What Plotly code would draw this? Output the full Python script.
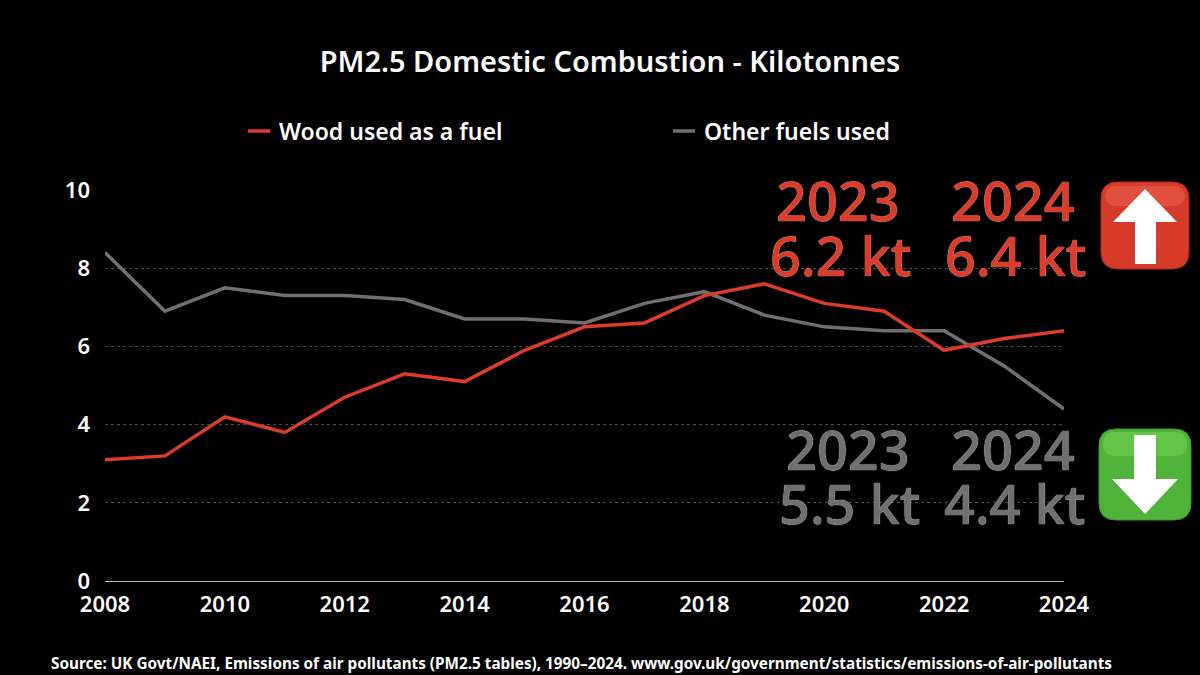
import plotly.graph_objects as go

years = list(range(2008, 2025))
wood = [3.1, 3.2, 4.2, 3.8, 4.7, 5.3, 5.1, 5.9, 6.5, 6.6, 7.3, 7.6, 7.1, 6.9, 5.9, 6.2, 6.4]
other = [8.4, 6.9, 7.5, 7.3, 7.3, 7.2, 6.7, 6.7, 6.6, 7.1, 7.4, 6.8, 6.5, 6.4, 6.4, 5.5, 4.4]
wood_labels = [("2023", 838, 200), ("2024", 1013, 200), ("6.2 kt", 840, 255), ("6.4 kt", 1015, 255)]
other_labels = [("2023", 848, 449), ("2024", 1013, 449), ("5.5 kt", 849, 503), ("4.4 kt", 1014, 503)]

RED = "#dc3c2a"
GREY = "#707070"
FONT = "Noto Sans"
W, H = 1200, 675
LEFT, RIGHT, TOP, BOTTOM = 105, 1064, 190, 581


# paper coordinates run over the plot area, these take picture pixels
def px(x):
    return (x - LEFT) / (RIGHT - LEFT)


def py(y):
    return (BOTTOM - y) / (BOTTOM - TOP)


def path(points):
    return "M " + " L ".join(f"{px(x):.4f},{py(y):.4f}" for x, y in points) + " Z"


def rounded(x0, y0, x1, y1, r):
    a, b, c, d = px(x0), px(x1), py(y0), py(y1)
    rx, ry = r / (RIGHT - LEFT), r / (BOTTOM - TOP)
    return (f"M {a+rx:.4f},{c:.4f} L {b-rx:.4f},{c:.4f} Q {b:.4f},{c:.4f} {b:.4f},{c-ry:.4f} "
            f"L {b:.4f},{d+ry:.4f} Q {b:.4f},{d:.4f} {b-rx:.4f},{d:.4f} L {a+rx:.4f},{d:.4f} "
            f"Q {a:.4f},{d:.4f} {a:.4f},{d+ry:.4f} L {a:.4f},{c-ry:.4f} Q {a:.4f},{c:.4f} {a+rx:.4f},{c:.4f} Z")


fig = go.Figure()
fig.add_trace(go.Scatter(x=years, y=other, mode="lines", line=dict(color=GREY, width=3.5),
                         showlegend=False, cliponaxis=False))
fig.add_trace(go.Scatter(x=years, y=wood, mode="lines", line=dict(color=RED, width=3.5),
                         showlegend=False, cliponaxis=False))
# legend keys are short dashes, so they get their own empty traces
for name, colour in [("Wood used as a fuel", RED), ("Other fuels used", GREY)]:
    fig.add_trace(go.Scatter(x=[None], y=[None], mode="markers", name=name,
                             marker=dict(symbol="line-ew", size=19, line=dict(color=colour, width=3.5))))

for labels, colour, edge in [(wood_labels, RED, "#e8a79f"), (other_labels, GREY, "#c4c4c4")]:
    for text, x, y in labels:
        fig.add_annotation(text=text, x=px(x), y=py(y), xref="paper", yref="paper",
                           showarrow=False, xanchor="center", yanchor="middle",
                           font=dict(family=FONT, size=54, color=colour, weight=500,
                                     shadow=f"0 0 1px {edge}, 0 0 1px {edge}"))

fig.add_annotation(text="Source: UK Govt/NAEI, Emissions of air pollutants (PM2.5 tables), 1990–2024. www.gov.uk/government/statistics/emissions-of-air-pollutants",
                   x=px(581), y=py(663), xref="paper", yref="paper", showarrow=False, yanchor="middle",
                   font=dict(family=FONT, size=15.3, color="white", weight=700))

shapes = [
    dict(type="path", path=rounded(1101, 182, 1189, 269, 17), fillcolor="#d63a28", line=dict(color="#b52d1e", width=1)),
    dict(type="path", path=rounded(1105, 186, 1185, 206, 12), fillcolor="#e0503c", line=dict(width=0)),
    dict(type="path", path=path([(1145, 189), (1177, 222), (1156, 222), (1156, 264), (1135, 264), (1135, 222), (1113, 222)]),
         fillcolor="white", line=dict(width=0)),
    dict(type="path", path=rounded(1099, 429, 1191, 520, 17), fillcolor="#4fb339", line=dict(color="#3f9a2c", width=1)),
    dict(type="path", path=rounded(1103, 432, 1187, 456, 12), fillcolor="#62c548", line=dict(width=0)),
    dict(type="path", path=path([(1145, 514), (1178, 479), (1156, 479), (1156, 435), (1134, 435), (1134, 479), (1112, 479)]),
         fillcolor="white", line=dict(width=0)),
]
for s in shapes:
    s.update(xref="paper", yref="paper", layer="above")

fig.update_layout(
    width=W, height=H, autosize=False,
    paper_bgcolor="black", plot_bgcolor="black",
    margin=dict(l=LEFT, r=W - RIGHT, t=TOP, b=H - BOTTOM, autoexpand=False),
    font=dict(family=FONT, color="white", size=22, weight=600),
    title=dict(text="PM2.5 Domestic Combustion - Kilotonnes", x=610 / W, xanchor="center",
               y=1 - 62 / H, yanchor="middle", font=dict(family=FONT, size=29, color="white", weight=600)),
    legend=dict(orientation="h", x=px(239), y=py(131), xanchor="left", yanchor="middle",
                entrywidth=380, entrywidthmode="pixels", bgcolor="rgba(0,0,0,0)",
                font=dict(family=FONT, size=23, color="white", weight=600)),
    shapes=shapes,
)
fig.update_xaxes(range=[2008, 2024], tickmode="array", tickvals=years[::2], ticktext=[str(y) for y in years[::2]],
                 showgrid=False, zeroline=False, showline=False, ticks="", tickangle=0, ticklabelstandoff=8)
fig.update_yaxes(range=[0, 10], tickmode="array", tickvals=[0, 2, 4, 6, 8, 10], showgrid=True, gridcolor="#4a4a4a",
                 griddash="dot", gridwidth=1, zeroline=True, zerolinecolor="#bbbbbb", zerolinewidth=1,
                 showline=False, ticks="", ticklabelstandoff=14)

# drop the page margin so the figure fills the window
fig.write_html("out.html", config=dict(displayModeBar=False),
               post_script="document.body.style.margin='0';document.body.style.background='black';")
